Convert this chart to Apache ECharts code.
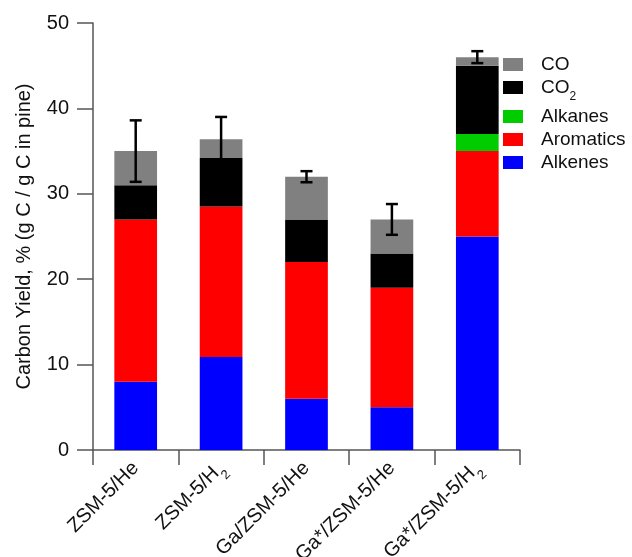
<!DOCTYPE html>
<html>
<head>
<meta charset="utf-8">
<script src="https://cdn.jsdelivr.net/npm/echarts@6/dist/echarts.min.js"></script>
<style>html,body{margin:0;padding:0;background:#fff}#c{width:632px;height:557px}</style>
</head>
<body>
<div id="c"></div>
<script>
const categories = ['ZSM-5/He', 'ZSM-5/H2', 'Ga/ZSM-5/He', 'Ga*/ZSM-5/He', 'Ga*/ZSM-5/H2'];
const alkenes   = [8, 10.9, 6, 5, 25];
const aromatics = [19, 17.6, 16, 14, 10];
const alkanes   = [0, 0, 0, 0, 2];
const co2       = [4, 5.7, 5, 4, 8];
const co        = [4, 2.2, 5, 4, 1];
const errors    = [3.6, 2.6, 0.65, 1.8, 0.7];
const yTicks    = [0, 10, 20, 30, 40, 50];

const totals = categories.map((_, i) => alkenes[i] + aromatics[i] + alkanes[i] + co2[i] + co[i]);
const FONT = 'Liberation Sans, Arial, sans-serif';
const sub = n => n.replace(/(H|CO)2$/, '$1{sub|2}');

const chart = echarts.init(document.getElementById('c'));
const mk = (name, data, color) => ({
  name, type: 'bar', stack: 'total', data, barWidth: '50%',
  itemStyle: { color, borderColor: color, borderWidth: 0 },
  emphasis: { disabled: true }
});

chart.setOption({
  animation: false,
  textStyle: { fontFamily: FONT },
  grid: { left: 93, right: 112, top: 23, bottom: 107, containLabel: false, outerBoundsMode: 'none' },
  legend: {
    data: ['CO', 'CO2', 'Alkanes', 'Aromatics', 'Alkenes'],
    orient: 'vertical', left: 498, top: 50,
    itemWidth: 20, itemHeight: 13, itemGap: 4,
    icon: 'rect',
    formatter: n => sub(n),
    textStyle: {
      fontFamily: FONT, fontSize: 19, color: '#111', padding: [0, 0, 0, 13],
      rich: { sub: { fontSize: 12, verticalAlign: 'bottom', padding: [0, 0, -6, 0], fontFamily: FONT, color: '#111' } }
    }
  },
  xAxis: {
    type: 'category', data: categories, offset: 2,
    axisLine: { lineStyle: { color: '#555', width: 1.5 } },
    axisTick: { show: true, length: 15, lineStyle: { color: '#555', width: 1.5 } },
    axisLabel: {
      rotate: 45, interval: 0, fontSize: 20, color: '#111', fontFamily: FONT, margin: 13,
      formatter: v => sub(v),
      rich: { sub: { fontSize: 13, verticalAlign: 'bottom', padding: [0, 0, -7, 0], fontFamily: FONT, color: '#111' } }
    }
  },
  yAxis: {
    type: 'value', min: 0, max: 50, interval: 10,
    name: 'Carbon Yield, % (g C / g C in pine)',
    nameLocation: 'middle', nameGap: 59,
    nameTextStyle: { fontSize: 20, color: '#111', fontFamily: FONT },
    axisLine: { show: true, lineStyle: { color: '#555', width: 1.5 } },
    axisTick: { show: true, length: 16, lineStyle: { color: '#555', width: 1.5 } },
    axisLabel: { fontSize: 20, color: '#111', fontFamily: FONT, margin: 24,
      formatter: v => yTicks.includes(v) ? String(v) : '' },
    splitLine: { show: false }
  },
  series: [
    mk('Alkenes', alkenes, '#0000FF'),
    mk('Aromatics', aromatics, '#FF0000'),
    mk('Alkanes', alkanes, '#00CC00'),
    mk('CO2', co2, '#000000'),
    mk('CO', co, '#808080'),
    {
      type: 'custom', name: 'err', z: 10,
      data: categories.map((_, i) => [i, totals[i] - errors[i], totals[i] + errors[i]]),
      renderItem: (params, api) => {
        const x = api.value(0);
        const lo = api.coord([x, api.value(1)]);
        const hi = api.coord([x, api.value(2)]);
        const w = 6;
        const style = { stroke: '#000', lineWidth: 2.5 };
        return {
          type: 'group',
          children: [
            { type: 'line', shape: { x1: lo[0], y1: lo[1], x2: hi[0], y2: hi[1] }, style },
            { type: 'line', shape: { x1: hi[0] - w, y1: hi[1], x2: hi[0] + w, y2: hi[1] }, style },
            { type: 'line', shape: { x1: lo[0] - w, y1: lo[1], x2: lo[0] + w, y2: lo[1] }, style }
          ]
        };
      }
    }
  ]
});
</script>
</body>
</html>
